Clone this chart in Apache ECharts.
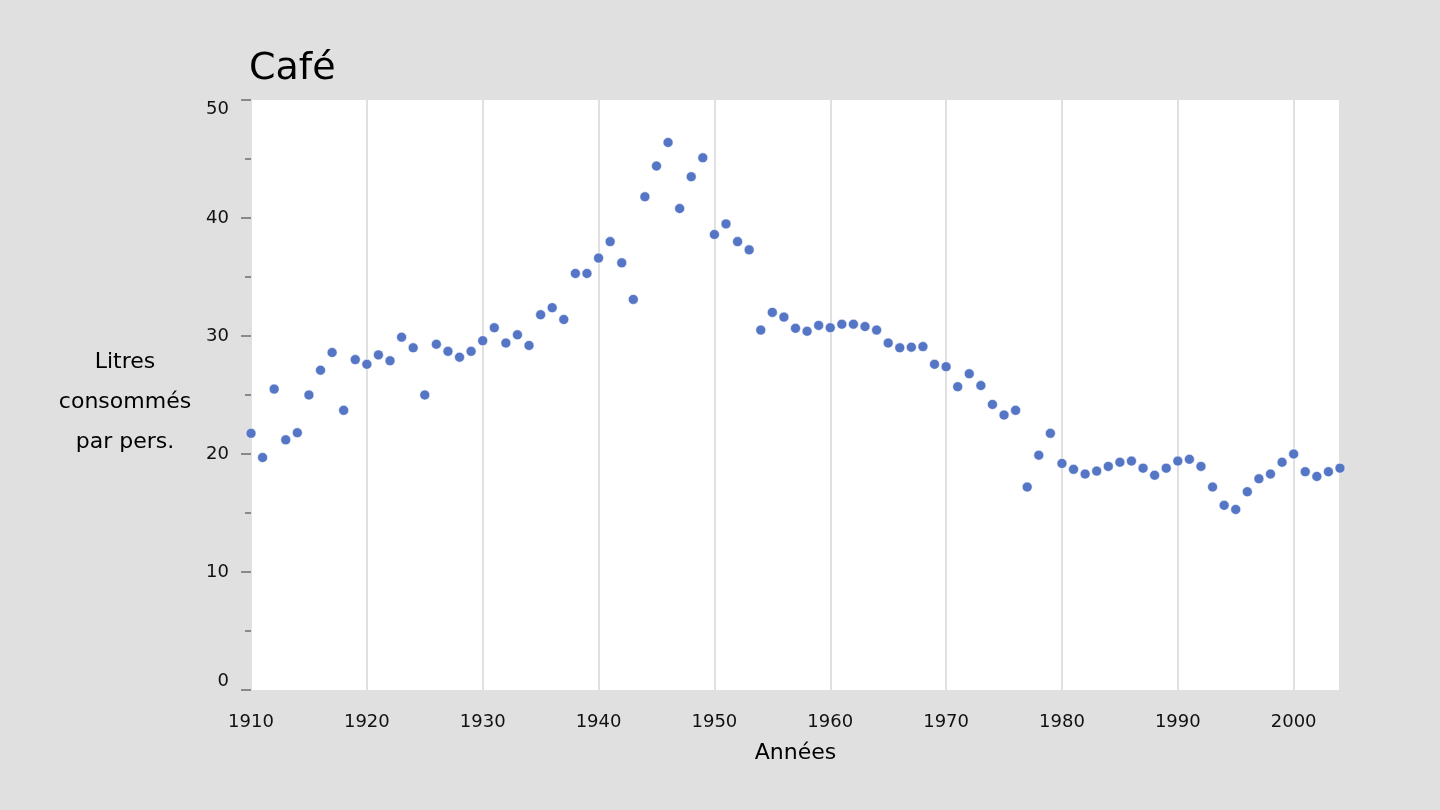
<!DOCTYPE html>
<html>
<head>
<meta charset="utf-8">
<style>html,body{margin:0;padding:0;background:#e0e0e0;}#c{width:1440px;height:810px;}</style>
<script src="https://cdn.jsdelivr.net/npm/echarts@6/dist/echarts.min.js"></script>
</head>
<body>
<div id="c"></div>
<script>
const years = [1910,1911,1912,1913,1914,1915,1916,1917,1918,1919,1920,1921,1922,1923,1924,1925,1926,1927,1928,1929,1930,1931,1932,1933,1934,1935,1936,1937,1938,1939,1940,1941,1942,1943,1944,1945,1946,1947,1948,1949,1950,1951,1952,1953,1954,1955,1956,1957,1958,1959,1960,1961,1962,1963,1964,1965,1966,1967,1968,1969,1970,1971,1972,1973,1974,1975,1976,1977,1978,1979,1980,1981,1982,1983,1984,1985,1986,1987,1988,1989,1990,1991,1992,1993,1994,1995,1996,1997,1998,1999,2000,2001,2002,2003,2004];
const litres = [21.75,19.7,25.5,21.2,21.8,25.0,27.1,28.6,23.7,28.0,27.6,28.4,27.9,29.9,29.0,25.0,29.3,28.7,28.2,28.7,29.6,30.7,29.4,30.1,29.2,31.8,32.4,31.4,35.3,35.3,36.6,38.0,36.2,33.1,41.8,44.4,46.4,40.8,43.5,45.1,38.6,39.5,38.0,37.3,30.5,32.0,31.6,30.65,30.4,30.9,30.7,31.0,31.0,30.8,30.5,29.4,29.0,29.05,29.1,27.6,27.4,25.7,26.8,25.8,24.2,23.3,23.7,17.2,19.9,21.75,19.2,18.7,18.3,18.55,18.95,19.3,19.4,18.8,18.2,18.8,19.4,19.55,18.95,17.2,15.65,15.3,16.8,17.9,18.3,19.3,20.0,18.5,18.1,18.5,18.8];
const titleText = 'Café';
const xName = 'Années';
const yNameLines = ['Litres', 'consommés', 'par pers.'];

const chart = echarts.init(document.getElementById('c'), null, {renderer: 'canvas'});
const font = 'DejaVu Sans';
chart.setOption({
  backgroundColor: '#e0e0e0',
  animation: false,
  title: {
    text: titleText, left: 249, top: 50, padding: 0,
    textStyle: {fontFamily: font, fontSize: 38, fontWeight: 'normal', color: '#000'}
  },
  grid: {left: 251, right: 100, top: 100, bottom: 120, show: true, backgroundColor: '#fff', borderWidth: 0},
  xAxis: {
    type: 'value', min: 1910, max: 2004, interval: 10,
    name: xName, nameLocation: 'middle', nameGap: 52,
    nameTextStyle: {fontFamily: font, fontSize: 22, color: '#000'},
    axisLine: {show: false}, axisTick: {show: false},
    axisLabel: {fontFamily: font, fontSize: 18, color: '#111', margin: 23, showMaxLabel: false,
      formatter: v => String(v)},
    splitLine: {show: true, lineStyle: {color: '#e0e0e0', width: 2}}
  },
  yAxis: {
    type: 'value', min: 0, max: 50, interval: 10,
    name: '{s| }\n' + yNameLines.map(l => '{t|' + l + '}').join('\n'),
    nameLocation: 'middle', nameRotate: 0, nameGap: 126,
    nameTextStyle: {fontFamily: font, fontSize: 22, color: '#000', align: 'center', verticalAlign: 'middle',
      rich: {
        s: {fontSize: 1, lineHeight: 14},
        t: {fontFamily: font, fontSize: 22, color: '#000', lineHeight: 40, align: 'center'}
      }},
    axisLine: {show: false},
    axisTick: {show: true, length: 10, lineStyle: {color: '#8a8a8a', width: 2}},
    minorTick: {show: true, splitNumber: 2, length: 6, lineStyle: {color: '#8a8a8a', width: 2}},
    axisLabel: {fontFamily: font, fontSize: 18, color: '#111', margin: 22,
      verticalAlignMinLabel: 'bottom', verticalAlignMaxLabel: 'top'},
    splitLine: {show: false}
  },
  series: [{
    type: 'scatter',
    data: years.map((y, i) => [y, litres[i]]),
    symbolSize: 10,
    itemStyle: {color: '#5575c5', borderColor: '#fff', borderWidth: 0.6, opacity: 1}
  }]
});
</script>
</body>
</html>
